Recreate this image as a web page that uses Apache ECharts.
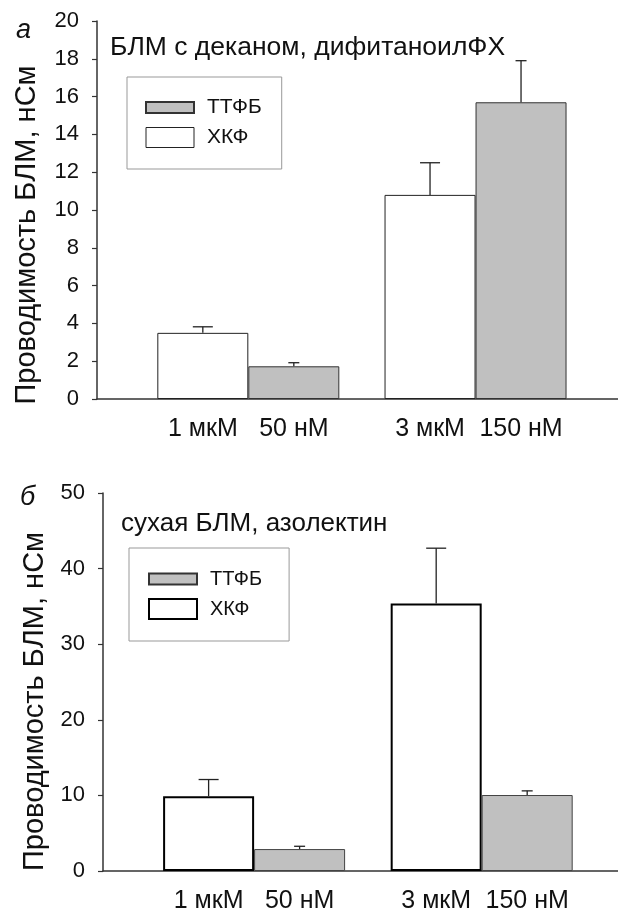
<!DOCTYPE html>
<html>
<head>
    <meta charset="UTF-8">
    <title>Проводимость БЛМ</title>
    <script type="text/javascript" src="https://cdn.jsdelivr.net/npm/echarts@6/dist/echarts.min.js"></script>
    <style>
        *{margin:0;padding:0}
        html,body{width:100%;height:100%;background:#fff}
        #main{width:618px;height:911px}
    </style>
</head>
<body>
<div id="main"></div>

<script type="text/javascript">
    // положение групп по оси X (1-я и 2-я пара столбиков)
    var groups = [1, 2];
    var dosesHkf = ['1 мкМ', '3 мкМ'];
    var dosesTtfb = ['50 нМ', '150 нМ'];

    // панель а: БЛМ с деканом, дифитаноилФХ
    var hkfA = [3.5, 10.8];
    var hkfErrA = [0.32, 1.7];
    var ttfbA = [1.73, 15.7];
    var ttfbErrA = [0.19, 2.2];

    // панель б: сухая БЛМ, азолектин
    var hkfB = [9.9, 35.4];
    var hkfErrB = [2.2, 7.3];
    var ttfbB = [2.9, 10.05];
    var ttfbErrB = [0.37, 0.55];

    var yTicksA = [0, 20, 2];   // min, max, шаг
    var yTicksB = [0, 50, 10];

    var BAR_W = 91;
    var FONT = "'Liberation Sans', Arial, sans-serif";

    function pairs(vals) {
        return vals.map(function (v, i) { return [groups[i], v]; });
    }
    function triples(vals, errs) {
        return vals.map(function (v, i) { return [groups[i], v, errs[i]]; });
    }

    // планки погрешностей (только вверх), side: -1 левый столбик, 1 правый
    function errRender(side, capHalf) {
        return function (params, api) {
            var x = api.value(0), y = api.value(1), e = api.value(2);
            var p0 = api.coord([x, y]);
            var p1 = api.coord([x, y + e]);
            var cx = p0[0] + side * BAR_W / 2;
            var st = {stroke: '#222', lineWidth: 1.3};
            return {
                type: 'group',
                children: [
                    {type: 'line', shape: {x1: cx, y1: p0[1], x2: cx, y2: p1[1]}, style: st},
                    {type: 'line', shape: {x1: cx - capHalf, y1: p1[1], x2: cx + capHalf, y2: p1[1]}, style: st}
                ]
            };
        };
    }

    function doseLabel(doses) {
        return {
            show: true,
            position: 'bottom',
            distance: 18,
            fontSize: 25,
            color: '#111',
            formatter: function (p) { return doses[p.dataIndex]; }
        };
    }

    var axisLine = {show: true, lineStyle: {color: '#333', width: 1.5}};

    function yAxis(idx, ticks, gap, shift) {
        return {
            type: 'value', gridIndex: idx,
            min: ticks[0], max: ticks[1], interval: ticks[2],
            name: 'Проводимость БЛМ, нСм',
            nameLocation: 'middle', nameRotate: 90, nameGap: gap,
            nameTextStyle: {fontSize: 29, color: '#111', padding: [0, shift, 0, 0]},
            axisLine: axisLine,
            axisTick: {show: true, length: 5, lineStyle: {color: '#333', width: 1.2}},
            axisLabel: {fontSize: 22, color: '#111', margin: 18},
            splitLine: {show: false}
        };
    }

    function xAxis(idx, min, max) {
        return {
            type: 'value', gridIndex: idx, min: min, max: max,
            axisLine: axisLine, axisTick: {show: false},
            axisLabel: {show: false}, splitLine: {show: false}
        };
    }

    function legend(left, top, pad, size, whiteBorder) {
        return {
            orient: 'vertical', left: left, top: top,
            padding: pad, itemWidth: 48, itemHeight: 20, itemGap: 9,
            borderColor: '#999', borderWidth: 1,
            textStyle: {fontSize: size, color: '#111', padding: [0, 0, 0, 8]},
            data: [
                {name: 'ТТФБ', icon: 'path://M0,0H48V11H0Z'},
                {name: 'ХКФ', icon: 'rect', itemStyle: {borderColor: whiteBorder[0], borderWidth: whiteBorder[1]}}
            ],
            selectedMode: false
        };
    }

    var option = {
        animation: false,
        textStyle: {fontFamily: FONT},
        title: [
            {text: 'а', left: 11, top: 12, textStyle: {fontSize: 27, fontStyle: 'italic', fontWeight: 'normal', color: '#111'}},
            {text: 'БЛМ с деканом, дифитаноилФХ', left: 105, top: 29, textStyle: {fontSize: 26.5, fontWeight: 'normal', color: '#111'}},
            {text: 'б', left: 15, top: 479, textStyle: {fontSize: 27, fontStyle: 'italic', fontWeight: 'normal', color: '#111'}},
            {text: 'сухая БЛМ, азолектин', left: 116, top: 506, textStyle: {fontSize: 26, fontWeight: 'normal', color: '#111'}}
        ],
        legend: [
            legend(127, 77, [20, 20, 21, 18], 21, ['#222', 1]),
            legend(129, 548, [21, 27, 21, 19], 20, ['#000', 2])
        ],
        grid: [
            {left: 97, top: 21, right: 0, height: 378},
            {left: 103, top: 493, right: 0, height: 378}
        ],
        xAxis: [xAxis(0, 0.334, 2.627), xAxis(1, 0.336, 2.599)],
        yAxis: [yAxis(0, yTicksA, 56, 50), yAxis(1, yTicksB, 54, 39)],
        series: [
            {
                name: 'ХКФ', type: 'bar', xAxisIndex: 0, yAxisIndex: 0,
                barWidth: BAR_W, barGap: '0%',
                itemStyle: {color: '#fff', borderColor: '#222', borderWidth: 1},
                label: doseLabel(dosesHkf),
                data: pairs(hkfA)
            },
            {
                name: 'ТТФБ', type: 'bar', xAxisIndex: 0, yAxisIndex: 0,
                barWidth: BAR_W, barGap: '0%',
                itemStyle: {color: '#c0c0c0', borderColor: '#333', borderWidth: 1},
                label: doseLabel(dosesTtfb),
                data: pairs(ttfbA)
            },
            {
                name: 'ХКФ', type: 'bar', xAxisIndex: 1, yAxisIndex: 1,
                barWidth: BAR_W, barGap: '0%',
                itemStyle: {color: '#fff', borderColor: '#000', borderWidth: 2},
                label: doseLabel(dosesHkf),
                data: pairs(hkfB)
            },
            {
                name: 'ТТФБ', type: 'bar', xAxisIndex: 1, yAxisIndex: 1,
                barWidth: BAR_W, barGap: '0%',
                itemStyle: {color: '#c0c0c0', borderColor: '#444', borderWidth: 1},
                label: doseLabel(dosesTtfb),
                data: pairs(ttfbB)
            },
            {type: 'custom', xAxisIndex: 0, yAxisIndex: 0, z: 3, renderItem: errRender(-1, 10), data: triples(hkfA, hkfErrA)},
            {type: 'custom', xAxisIndex: 0, yAxisIndex: 0, z: 3, renderItem: errRender(1, 5.5), data: triples(ttfbA, ttfbErrA)},
            {type: 'custom', xAxisIndex: 1, yAxisIndex: 1, z: 3, renderItem: errRender(-1, 10), data: triples(hkfB, hkfErrB)},
            {type: 'custom', xAxisIndex: 1, yAxisIndex: 1, z: 3, renderItem: errRender(1, 5.5), data: triples(ttfbB, ttfbErrB)}
        ]
    };

    var myChart = echarts.init(document.getElementById('main'));
    myChart.setOption(option);
</script>
</body>
</html>
